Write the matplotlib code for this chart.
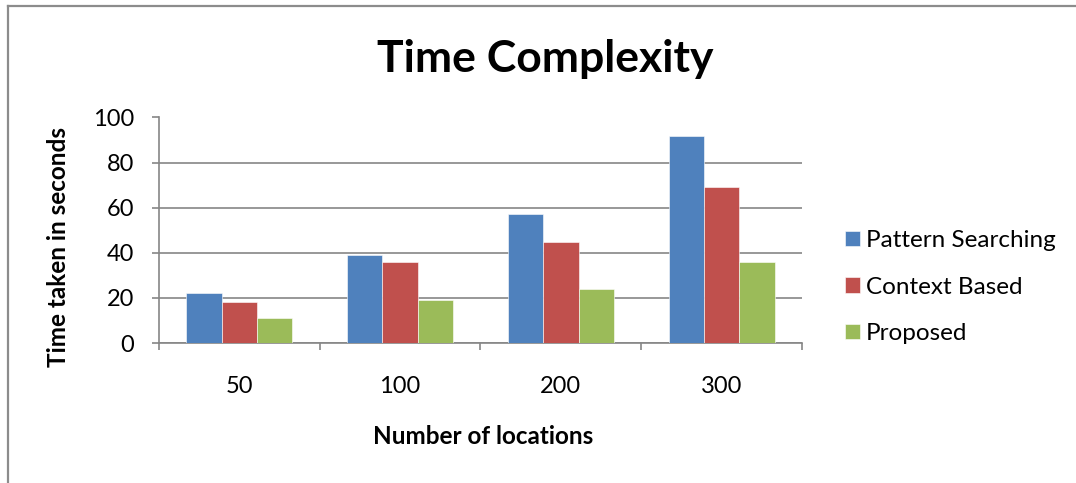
import numpy as np
import matplotlib
matplotlib.use("Agg")
import matplotlib.pyplot as plt
from matplotlib.lines import Line2D

plt.rcParams['font.family'] = ['Lato', 'DejaVu Sans']

# data
locations = ['50', '100', '200', '300']
pattern_searching = [22, 39, 57, 92]
context_based = [18, 36, 45, 69]
proposed = [11, 19, 24, 36]
series_names = ['Pattern Searching', 'Context Based', 'Proposed']
colors = ['#4F81BD', '#C0504D', '#9BBB59']
grid_gray = '#868686'

fig = plt.figure(figsize=(10.76, 4.83), dpi=100)
ax = fig.add_axes([159 / 1076, 1 - 343 / 483, 643 / 1076, 225.5 / 483])

x = np.arange(len(locations))
w = 0.22
for i, vals in enumerate([pattern_searching, context_based, proposed]):
    ax.bar(x + (i - 1) * w, vals, width=w, color=colors[i],
           edgecolor='white', linewidth=0.4, label=series_names[i], zorder=3)

ax.set_xlim(-0.5, len(locations) - 0.5)
ax.set_ylim(0, 100)
ax.set_yticks(range(0, 101, 20))
ax.yaxis.grid(True, color=grid_gray, linewidth=1.2, zorder=0)

for s in ['top', 'right']:
    ax.spines[s].set_visible(False)
for s in ['left', 'bottom']:
    ax.spines[s].set_color(grid_gray)
    ax.spines[s].set_linewidth(1.2)

ax.tick_params(axis='y', length=5, width=1.2, color=grid_gray, pad=13,
               labelsize=17)
ax.set_xticks(x)
ax.set_xticklabels(locations)
ax.set_xticks(np.arange(-0.5, len(locations)), minor=True)
ax.tick_params(axis='x', which='major', length=0, pad=24, labelsize=17)
ax.tick_params(axis='x', which='minor', length=5, width=1.2, color=grid_gray)

fig.text(545 / 1076, 1 - 72 / 483, 'Time Complexity', ha='center',
         va='baseline', fontsize=32, fontweight='bold')
fig.text(483 / 1076, 1 - 437 / 483, 'Number of locations', ha='center',
         va='center', fontsize=17.5, fontweight='bold')
fig.text(59 / 1076, 1 - 247 / 483, 'Time taken in seconds', ha='center',
         va='center', rotation=90, fontsize=17.5, fontweight='bold')

ax.legend(loc='center left', bbox_to_anchor=(845 / 1076, 1 - 287 / 483),
          bbox_transform=fig.transFigure, frameon=False, fontsize=17.5,
          handlelength=0.62, handleheight=0.62, handletextpad=0.25,
          labelspacing=1.05, borderpad=0, borderaxespad=0)

# chart frame (cut off on the right and bottom)
fig.add_artist(Line2D([8 / 1076, 8 / 1076], [0, 1 - 5.5 / 483],
                      transform=fig.transFigure, color='#8c8c8c', lw=1.6))
fig.add_artist(Line2D([8 / 1076, 1], [1 - 5.5 / 483, 1 - 5.5 / 483],
                      transform=fig.transFigure, color='#8c8c8c', lw=1.6))

fig.savefig('out.png', dpi=100)
